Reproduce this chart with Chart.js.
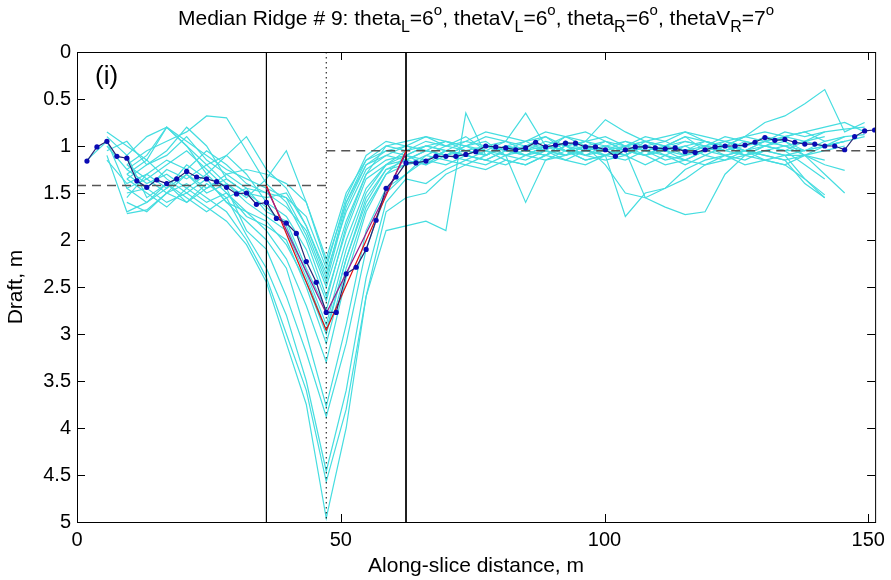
<!DOCTYPE html>
<html>
<head>
<meta charset="utf-8">
<script src="https://cdn.jsdelivr.net/npm/chart.js@4/dist/chart.umd.min.js"></script>
<style>
  body { margin: 0; background: #fff; }
  #wrap { width: 891px; height: 580px; }
</style>
</head>
<body>
<div id="wrap"><canvas id="ridge"></canvas></div>
<script>
// along-slice positions of the averaged profile (m)
const meanX = [1.89, 3.78, 5.67, 7.56, 9.45, 11.34, 13.23, 15.12, 17.01, 18.9,
  20.79, 22.68, 24.57, 26.46, 28.35, 30.24, 32.13, 34.02, 35.91, 37.8,
  39.69, 41.58, 43.47, 45.36, 47.25, 49.14, 51.03, 52.92, 54.81, 56.7,
  58.59, 60.48, 62.37, 64.26, 66.15, 68.04, 69.93, 71.82, 73.71, 75.6,
  77.49, 79.38, 81.27, 83.16, 85.05, 86.94, 88.83, 90.72, 92.61, 94.5,
  96.39, 98.28, 100.17, 102.06, 103.95, 105.84, 107.73, 109.62, 111.51, 113.4,
  115.29, 117.18, 119.07, 120.96, 122.85, 124.74, 126.63, 128.52, 130.41, 132.3,
  134.19, 136.08, 137.97, 139.86, 141.75, 143.64, 145.53, 147.42, 149.31, 151.2];

// averaged draft (m)
const meanDraft = [1.16, 1.01, 0.95, 1.11, 1.13, 1.37, 1.44, 1.36, 1.40, 1.35,
  1.27, 1.33, 1.35, 1.38, 1.44, 1.51, 1.50, 1.62, 1.60, 1.77,
  1.82, 1.93, 2.23, 2.45, 2.77, 2.77, 2.36, 2.29, 2.10, 1.79,
  1.45, 1.33, 1.18, 1.18, 1.16, 1.11, 1.11, 1.11, 1.09, 1.06,
  1.00, 1.01, 1.02, 1.04, 1.02, 0.96, 1.01, 0.99, 0.97, 0.97,
  1.01, 1.01, 1.04, 1.11, 1.04, 1.01, 1.01, 1.02, 1.03, 1.02,
  1.06, 1.07, 1.04, 1.01, 1.00, 1.00, 0.99, 0.96, 0.91, 0.94,
  0.93, 0.96, 0.98, 0.98, 1.00, 1.00, 1.04, 0.90, 0.84, 0.83];

// positions of the individual slices
const profX = [1.89, 5.67, 9.45, 13.23, 17.01, 20.79, 24.57, 28.35, 32.13, 35.91,
  39.69, 43.47, 47.25, 51.03, 54.81, 58.59, 62.37, 66.15, 69.93, 73.71,
  77.49, 81.27, 85.05, 88.83, 92.61, 96.39, 100.17, 103.95, 107.73, 111.51,
  115.29, 119.07, 122.85, 126.63, 130.41, 134.19, 137.97, 141.75, 145.53, 149.31];

const prof1 = [null, 1.05, 0.95, 1.20, 1.10, 0.90, 1.15, 1.30, 1.25, 1.30,
  1.40, 1.60, 2.20, 1.50, 1.15, 1.00, 1.05, 0.95, 1.00, 0.90,
  1.05, 0.95, 1.00, 0.90, 1.05, 0.95, 1.00, 1.10, 0.95, 1.00,
  0.90, 1.05, 0.95, 1.00, 0.90, 0.95, 1.05, 0.95, 0.90, 0.88];
const prof2 = [null, null, 1.30, 1.45, 1.25, 1.35, 1.20, 1.40, 1.55, 1.35,
  1.05, 1.60, 2.25, 1.60, 1.20, 1.10, 1.15, 1.05, 1.10, 1.00,
  0.95, 1.10, 1.05, 1.00, 1.10, 1.05, 0.95, 1.05, 1.00, 1.10,
  1.00, 0.95, 1.05, 1.10, 1.00, 1.05, 1.20, 1.35, null, null];
const prof3 = [1.15, 0.95, 1.45, 1.35, 1.50, 1.30, 1.45, 1.35, 1.50, 1.55,
  1.50, 1.85, 2.35, 1.70, 1.25, 1.10, 1.00, 1.05, 0.95, 1.00,
  1.10, 1.00, 0.95, 1.05, 0.90, 1.00, 1.05, 0.95, 1.00, 0.95,
  1.05, 1.00, 0.90, 0.95, 1.00, 0.90, 0.95, 0.85, 0.82, 0.80];
const prof4 = [null, 0.90, 1.10, 1.55, 1.40, 1.60, 1.45, 1.30, 1.45, 1.50,
  1.55, 1.95, 2.50, 1.80, 1.30, 1.15, 1.10, 1.00, 1.05, 1.10,
  1.00, 1.05, 1.10, 1.00, 1.05, 1.10, 1.00, 1.05, 1.10, 1.00,
  1.10, 1.05, 1.00, 1.10, 1.05, 1.00, 1.10, 1.30, 1.50, null];
const prof5 = [null, null, 1.20, 1.05, 0.95, 0.85, 0.68, 0.70, 1.05, 1.40,
  1.60, 2.00, 2.60, 1.90, 1.35, 1.20, 1.10, 1.15, 1.05, 1.10,
  1.15, 1.05, 1.00, 1.00, 1.05, 1.15, 1.10, 1.00, 1.05, 1.15,
  1.10, 1.00, 1.05, 0.95, 1.00, 1.05, 1.05, 1.00, 0.95, null];
const prof6 = [null, 1.00, 1.25, 1.10, 0.80, 1.00, 1.20, 1.10, 1.30, 1.60,
  1.75, 2.10, 2.65, 1.85, 1.30, 1.00, 0.95, 0.90, 1.00, 0.95,
  0.85, 0.90, 0.95, 0.85, 0.90, 0.95, 0.72, 0.85, 0.95, 0.90,
  0.85, 0.90, 0.95, 0.90, 0.85, 0.90, 0.85, 0.95, null, null];
const prof7 = [null, null, 1.60, 1.70, 1.50, 1.60, 1.40, 1.55, 1.45, 1.70,
  1.80, 2.30, 2.75, 2.00, 1.45, 1.20, 1.15, 1.20, 1.10, 1.15,
  1.05, 1.15, 1.20, 1.10, 1.00, 1.10, 1.15, 1.10, 1.20, 1.10,
  1.15, 1.20, 1.10, 1.15, 1.05, 1.10, 1.35, 1.55, null, null];
const prof8 = [null, 1.10, 1.70, 1.60, 1.45, 1.30, 1.50, 1.40, 1.60, 1.75,
  1.90, 2.40, 2.96, 2.20, 1.60, 1.25, 1.15, 1.05, 1.10, 1.05,
  1.00, 0.95, 1.05, 1.10, 0.95, 1.05, 1.10, 1.00, 0.95, 1.05,
  1.10, 1.00, 0.95, 1.05, 1.00, 0.95, 1.10, 1.20, 1.26, null];
const prof9 = [null, null, 1.35, 1.50, 1.65, 1.45, 1.60, 1.50, 1.75, 1.85,
  2.00, 2.50, 3.10, 2.30, 1.65, 1.30, 1.20, 1.10, 1.15, 1.20,
  1.10, 1.00, 1.10, 1.15, 1.05, 1.00, 1.10, 1.15, 1.05, 1.10,
  1.20, 1.10, 1.00, 1.05, 1.15, 1.20, 1.10, 1.00, 0.95, 0.90];
const prof10 = [null, null, 1.10, 0.90, 0.80, 1.00, 1.30, 1.50, 1.70, 1.90,
  2.20, 2.70, 3.30, 2.40, 1.70, 1.30, 1.10, 1.00, 1.05, 0.95,
  1.00, 1.05, 0.95, 0.90, 1.00, 0.95, 0.90, 1.00, 0.95, 1.00,
  0.90, 0.95, 1.00, 0.90, 0.95, 0.85, 0.90, 0.85, null, null];
const prof11 = [null, 1.15, 1.40, 1.30, 1.45, 1.20, 1.35, 1.60, 1.80, 2.00,
  2.30, 3.00, 3.77, 2.90, 1.90, 1.45, 1.30, 1.15, 1.20, 1.10,
  1.15, 1.20, 1.10, 1.05, 1.15, 1.20, 1.10, 1.05, 1.10, 1.20,
  1.15, 1.05, 1.10, 1.20, 1.15, 1.10, 1.05, null, null, null];
const prof12 = [null, null, 1.20, 1.35, 1.20, 1.05, 1.25, 1.45, 1.90, 2.10,
  2.60, 3.20, 3.88, 3.10, 2.10, 1.50, 1.30, 1.10, 1.00, 1.05,
  1.10, 1.00, 1.05, 1.10, 1.00, 0.95, 1.05, 1.10, 1.00, 1.05,
  0.95, 1.00, 1.10, 1.05, 0.95, 1.00, 1.05, 1.00, 0.95, null];
const prof13 = [null, null, 1.45, 1.60, 1.40, 1.55, 1.70, 1.55, 1.95, 2.30,
  2.80, 3.50, 4.46, 3.60, 2.40, 1.60, 1.35, 1.40, 1.25, 1.15,
  1.20, 1.10, 1.15, 1.05, 1.10, 1.00, 1.20, 1.50, 1.55, 1.65,
  1.73, 1.70, 1.30, 1.10, 1.15, 1.20, 1.35, 1.52, null, null];
const prof14 = [null, null, 1.72, 1.68, 1.50, 1.40, 1.55, 1.70, 2.00, 2.40,
  3.00, 3.60, 4.57, 3.80, 2.60, 1.70, 1.55, 1.50, 1.30, 1.20,
  1.25, 1.15, 1.20, 1.10, 1.15, 1.05, 1.10, 1.75, 1.50, 1.45,
  1.25, 1.15, 1.10, 1.05, 1.10, 1.15, 1.10, 1.05, 1.00, null];
const prof15 = [null, null, 1.50, 1.45, 1.60, 1.50, 1.65, 1.80, 2.05, 2.45,
  3.10, 3.75, 4.96, 4.00, 2.60, 1.90, 1.85, 1.80, 1.90, 0.65,
  1.10, 1.00, 1.05, 1.10, 1.00, 1.05, 1.00, 0.95, 1.05, 1.00,
  0.95, 1.00, 1.05, 1.00, 0.95, 1.00, 0.95, 0.90, null, null];
const prof16 = [null, 0.85, 1.00, 1.15, 0.80, 0.95, 1.10, 1.25, 1.35, 1.45,
  1.55, 1.75, 2.30, 1.55, 1.10, 0.95, 1.00, 0.90, 0.95, 1.00,
  0.90, 0.95, 0.65, 1.00, 0.90, 0.85, 0.95, 1.00, 0.90, 0.95,
  0.85, 0.95, 1.00, 0.90, 0.75, 0.68, 0.55, 0.40, 0.85, 0.75];
const prof17 = [null, null, 1.55, 1.30, 1.15, 1.25, 1.05, 1.20, 1.40, 1.50,
  1.65, 1.90, 2.45, 1.65, 1.20, 1.05, 1.10, 1.20, 1.05, 1.10,
  1.00, 1.10, 1.60, 1.15, 1.10, 1.00, 1.05, 1.10, 1.00, 1.05,
  1.15, 1.05, 1.00, 1.10, 1.05, 1.10, 1.10, 1.15, null, null];
const prof18 = [null, null, 1.35, 1.20, 1.05, 0.80, 1.00, 1.35, 1.50, 1.65,
  1.85, 2.35, 2.90, 2.10, 1.50, 1.20, 1.05, 1.00, 0.95, 1.05,
  1.10, 1.00, 1.05, 0.95, 1.00, 1.10, 1.05, 1.00, 1.10, 1.05,
  1.00, 1.10, 1.15, 1.10, 1.00, 1.05, 0.95, 1.00, 0.90, null];
const prof19 = [null, null, 1.25, 1.40, 1.30, 1.45, 1.30, 1.10, 0.90, 1.25,
  1.45, 1.85, 2.40, 1.60, 1.15, 1.05, 1.00, 1.05, 1.10, 1.00,
  1.05, 1.10, 1.00, 1.05, 1.10, 1.00, 0.95, 1.05, 1.10, 1.00,
  1.05, 0.95, 1.00, 1.05, 0.95, 0.90, 0.85, 0.80, 0.75, 0.85];
const prof20 = [null, null, 1.30, 1.15, 1.35, 1.50, 1.35, 1.60, 1.70, 1.80,
  2.05, 2.45, 3.00, 2.20, 1.55, 1.25, 1.20, 1.15, 1.05, 1.10,
  1.15, 1.05, 1.10, 1.00, 1.05, 1.15, 1.10, 1.05, 1.55, 1.45,
  1.35, 1.20, 1.15, 1.05, 1.10, 1.15, 1.40, 1.55, null, null];

const profiles = [prof1, prof2, prof3, prof4, prof5, prof6, prof7, prof8, prof9, prof10,
  prof11, prof12, prof13, prof14, prof15, prof16, prof17, prof18, prof19, prof20];

// ridge geometry
const ridgeEdges = [35.91, 62.37];
const apexX = 47.25;
const levelLeft = 1.42;
const levelRight = 1.05;
const fitX = [35.91, 47.25, 62.37];
const fitRed = [1.42, 2.96, 1.05];
const fitPurple = [1.45, 2.78, 1.08];

const xTicks = [0, 50, 100, 150];
const yTicks = [0, 0.5, 1, 1.5, 2, 2.5, 3, 3.5, 4, 4.5, 5];
const xMax = 151.3;

const pts = (xs, ys) => xs.map((x, i) => ({x: x, y: ys[i]})).filter(p => p.y !== null);

const datasets = [];
profiles.forEach(p => {
  datasets.push({data: pts(profX, p), borderColor: '#45dde0', borderWidth: 1.2,
    pointRadius: 0, order: 10});
});
datasets.push({data: pts(meanX, meanDraft), borderColor: '#262675', borderWidth: 1.2,
  pointRadius: 2.6, pointBorderWidth: 0, pointBackgroundColor: '#0a0ab4', order: 1});
datasets.push({data: pts(fitX, fitPurple), borderColor: '#9a1f8c', borderWidth: 1.2, pointRadius: 0, order: 2});
datasets.push({data: pts(fitX, fitRed), borderColor: '#e01010', borderWidth: 1.2, pointRadius: 0, order: 2});
ridgeEdges.forEach(e => {
  datasets.push({data: [{x: e, y: 0}, {x: e, y: 5}], borderColor: '#000', borderWidth: 1, pointRadius: 0, order: 3});
});
datasets.push({data: [{x: apexX, y: 0}, {x: apexX, y: 5}], borderColor: '#000', borderWidth: 1,
  borderDash: [1.5, 3.5], pointRadius: 0, order: 3});
datasets.push({data: [{x: 0, y: levelLeft}, {x: apexX, y: levelLeft}], borderColor: '#555', borderWidth: 1.5,
  borderDash: [9, 6], pointRadius: 0, order: 3});
datasets.push({data: [{x: apexX, y: levelRight}, {x: xMax, y: levelRight}], borderColor: '#555', borderWidth: 1.5,
  borderDash: [9, 6], pointRadius: 0, order: 3});

const titleParts = [['Median Ridge # 9: theta', 0], ['L', -1], ['=6', 0], ['o', 1],
  [', thetaV', 0], ['L', -1], ['=6', 0], ['o', 1],
  [', theta', 0], ['R', -1], ['=6', 0], ['o', 1],
  [', thetaV', 0], ['R', -1], ['=7', 0], ['o', 1]];

const FONT = '"Liberation Sans", Arial, sans-serif';

const frame = {
  id: 'frame',
  afterDatasetsDraw(chart) {
    const {ctx, chartArea: a, scales: {x, y}} = chart;
    ctx.save();
    ctx.strokeStyle = '#000';
    ctx.lineWidth = 1;
    ctx.strokeRect(a.left + 0.5, a.top + 0.5, a.right - a.left, a.bottom - a.top);
    ctx.beginPath();
    xTicks.forEach(v => {
      const p = Math.round(x.getPixelForValue(v)) + 0.5;
      ctx.moveTo(p, a.bottom); ctx.lineTo(p, a.bottom - 8);
      ctx.moveTo(p, a.top); ctx.lineTo(p, a.top + 8);
    });
    yTicks.forEach(v => {
      const p = Math.round(y.getPixelForValue(v)) + 0.5;
      ctx.moveTo(a.left, p); ctx.lineTo(a.left + 8, p);
      ctx.moveTo(a.right, p); ctx.lineTo(a.right - 8, p);
    });
    ctx.stroke();

    ctx.fillStyle = '#000';
    ctx.textBaseline = 'alphabetic';
    ctx.font = '26px ' + FONT;
    ctx.fillText('(i)', a.left + 18, a.top + 32);

    // title with sub/superscripts
    const fontFor = k => (k === 0 ? '21px ' : (k < 0 ? '16px ' : '15px ')) + FONT;
    let total = 0;
    titleParts.forEach(([t, k]) => { ctx.font = fontFor(k); total += ctx.measureText(t).width; });
    let cx = (a.left + a.right) / 2 - total / 2;
    const base = 25;
    titleParts.forEach(([t, k]) => {
      ctx.font = fontFor(k);
      const dy = k === 0 ? 0 : (k < 0 ? 7 : -10);
      ctx.fillText(t, cx, base + dy);
      cx += ctx.measureText(t).width;
    });
    ctx.restore();
  }
};

new Chart(document.getElementById('ridge'), {
  type: 'line',
  data: {datasets: datasets},
  options: {
    responsive: true,
    maintainAspectRatio: false,
    animation: false,
    layout: {padding: {left: 0, right: 7, top: 52, bottom: 0}},
    elements: {line: {tension: 0}},
    plugins: {legend: {display: false}, tooltip: {enabled: false}},
    scales: {
      x: {
        type: 'linear', min: 0, max: xMax,
        afterBuildTicks: s => { s.ticks = xTicks.map(v => ({value: v})); },
        afterFit: s => { s.height = 58; },
        grid: {display: false, drawTicks: false},
        border: {display: false},
        ticks: {color: '#000', padding: 6, maxRotation: 0, font: {family: FONT, size: 20},
          callback: v => String(v)},
        title: {display: true, text: 'Along-slice distance, m', color: '#000',
          font: {family: FONT, size: 21}, padding: {top: 0, bottom: 1}}
      },
      y: {
        type: 'linear', min: 0, max: 5, reverse: true,
        afterBuildTicks: s => { s.ticks = yTicks.map(v => ({value: v})); },
        afterFit: s => { s.width = 77; },
        grid: {display: false, drawTicks: false},
        border: {display: false},
        ticks: {color: '#000', padding: 6, font: {family: FONT, size: 20},
          callback: v => String(v)},
        title: {display: true, text: 'Draft, m', color: '#000',
          font: {family: FONT, size: 21}, padding: {top: 4, bottom: 0}}
      }
    }
  },
  plugins: [frame]
});
</script>
</body>
</html>
